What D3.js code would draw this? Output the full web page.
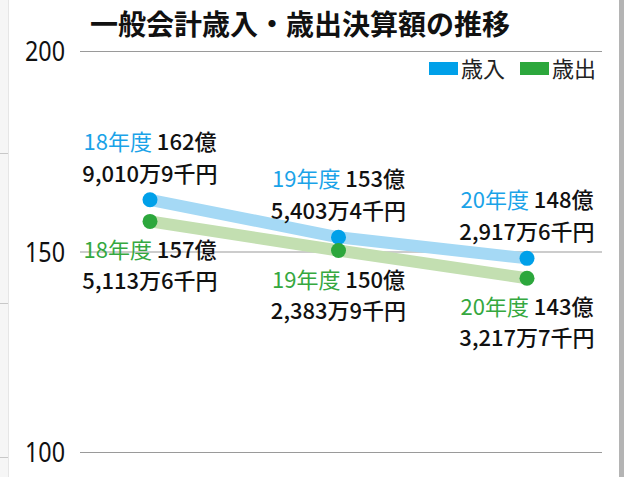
<!DOCTYPE html>
<html>
<head>
<meta charset="utf-8">
<script src="https://cdn.jsdelivr.net/npm/d3@7"></script>
<style>
  html, body { margin: 0; padding: 0; background: #f6f6f6; }
  #chart { width: 624px; height: 477px; }
  text { font-family: "Noto Sans CJK JP", "Noto Sans", sans-serif; }
</style>
</head>
<body>
<div id="chart"></div>
<script>
// data (単位: 億円)
const years = ['18年度', '19年度', '20年度'];
const revenue = [162.90109, 153.54034, 148.29176];
const expense = [157.51136, 150.23839, 143.32177];
const revenueOku = ['162億', '153億', '148億'];
const revenueRest = ['9,010万9千円', '5,403万4千円', '2,917万6千円'];
const expenseOku = ['157億', '150億', '143億'];
const expenseRest = ['5,113万6千円', '2,383万9千円', '3,217万7千円'];
const yTicks = [100, 150, 200];
const seriesNames = ['歳入', '歳出'];

const W = 624, H = 477;
const dotColors = ['#00a0e9', '#2ca73c'];
const lineColors = ['#a5d9f5', '#c3dfb1'];

const svg = d3.select('#chart').append('svg')
    .attr('width', W)
    .attr('height', H);

// panel background + frame
svg.append('rect').attr('x', 8).attr('y', 0).attr('width', 611).attr('height', H).attr('fill', '#fff');
svg.append('line').attr('x1', 8.5).attr('x2', 8.5).attr('y1', 0).attr('y2', H).attr('stroke', '#e6e6e6');
svg.append('rect').attr('x', 619).attr('y', 0).attr('width', 5).attr('height', H).attr('fill', '#b4b4b4');
[153, 303, 457].forEach(y => {
    svg.append('line').attr('x1', 0).attr('x2', 8).attr('y1', y + 0.5).attr('y2', y + 0.5).attr('stroke', '#c8c8c8');
});

// scales
const x = d3.scalePoint()
    .domain(years)
    .range([150, 527]);

const y = d3.scaleLinear()
    .domain([100, 200])
    .range([452, 51]);

// grid + y axis
const yAxis = svg.append('g')
    .attr('transform', 'translate(80,0)')
    .call(d3.axisRight(y).tickValues(yTicks).tickSize(522).tickFormat(d => d));
yAxis.select('.domain').remove();
yAxis.selectAll('.tick line').attr('stroke', '#9a9a9a').attr('stroke-width', 1.2);
yAxis.selectAll('.tick text')
    .attr('x', -15)
    .attr('dy', '0.36em')
    .attr('text-anchor', 'end')
    .attr('textLength', 40)
    .attr('lengthAdjust', 'spacingAndGlyphs')
    .style('font-family', '"Noto Sans", sans-serif')
    .style('font-size', '27px')
    .attr('fill', '#111');

// title
svg.append('text')
    .attr('x', 90)
    .attr('y', 35)
    .style('font-size', '28px')
    .style('font-weight', 'bold')
    .attr('fill', '#111')
    .text('一般会計歳入・歳出決算額の推移');

// legend
const legend = svg.append('g').attr('transform', 'translate(429,62)');
seriesNames.forEach((name, i) => {
    const g = legend.append('g').attr('transform', `translate(${i * 91},0)`);
    g.append('rect').attr('width', 29).attr('height', 13).attr('fill', dotColors[i]);
    g.append('text')
        .attr('x', 32)
        .attr('y', 15)
        .style('font-size', '22px')
        .attr('fill', '#222')
        .text(name);
});

// lines + dots
const series = [revenue, expense];
const line = d3.line()
    .x((d, i) => x(years[i]))
    .y(d => y(d));

series.forEach((vals, s) => {
    svg.append('path')
        .datum(vals)
        .attr('d', line)
        .attr('fill', 'none')
        .attr('stroke', lineColors[s])
        .attr('stroke-width', 12);
});
series.forEach((vals, s) => {
    svg.selectAll(`.dot-${s}`)
        .data(vals)
        .enter()
        .append('circle')
        .attr('class', `dot-${s}`)
        .attr('cx', (d, i) => x(years[i]))
        .attr('cy', d => y(d))
        .attr('r', 7.5)
        .attr('fill', dotColors[s]);
});

// data labels
function addLabels(vals, oku, rest, color, off1, off2) {
    vals.forEach((v, i) => {
        const cx = x(years[i]);
        const cy = y(v);
        const t = svg.append('text')
            .attr('x', cx)
            .attr('y', cy + off1)
            .attr('text-anchor', 'middle')
            .style('font-size', '22px');
        t.append('tspan').attr('fill', color).text(years[i]);
        t.append('tspan').attr('fill', '#111').style('font-weight', 500).text(' ' + oku[i]);
        svg.append('text')
            .attr('x', cx)
            .attr('y', cy + off2)
            .attr('text-anchor', 'middle')
            .style('font-size', '22px')
            .style('font-weight', 500)
            .attr('fill', '#111')
            .text(rest[i]);
    });
}
addLabels(revenue, revenueOku, revenueRest, '#1aa3e8', -50, -18);
addLabels(expense, expenseOku, expenseRest, '#35a83f', 37, 68);
</script>
</body>
</html>
